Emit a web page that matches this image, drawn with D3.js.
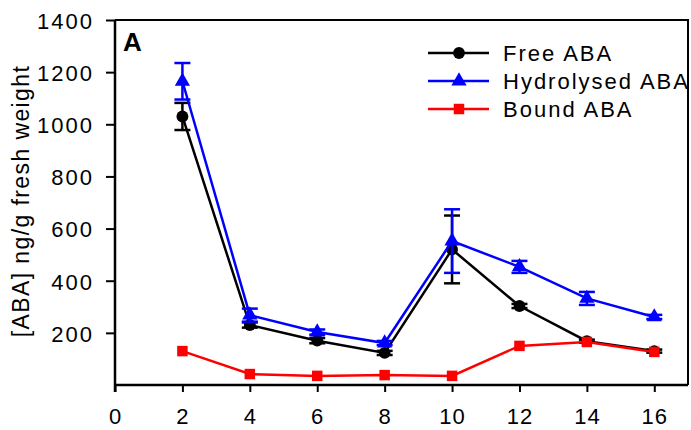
<!DOCTYPE html>
<html>
<head>
<meta charset="utf-8">
<script src="https://cdn.jsdelivr.net/npm/d3@7"></script>
<style>
  html, body { margin: 0; padding: 0; background: #fff; }
  svg { display: block; font-family: "Liberation Sans", Arial, sans-serif; }
</style>
</head>
<body>
<svg id="chart" width="691" height="430"></svg>
<script>
// Days after treatment
const days = [2, 4, 6, 8, 10, 12, 14, 16];

// ABA content, ng/g fresh weight
const freeABA = [1030, 230, 170, 123, 520, 303, 168, 130];
const freeErr = [52, 10, 10, 8, 130, 8, 6, 6];

const hydrolysedABA = [1165, 268, 203, 161, 552, 453, 332, 261];
const hydrolysedErr = [70, 25, 10, 8, 122, 23, 25, 8];

const boundABA = [130, 42, 35, 38, 35, 150, 165, 127];

const xTicks = [0, 2, 4, 6, 8, 10, 12, 14, 16];
const yTicks = [200, 400, 600, 800, 1000, 1200, 1400];

const seriesNames = ["Free ABA", "Hydrolysed ABA", "Bound ABA"];

const svg = d3.select("#chart");
const plotLeft = 115, plotRight = 688, plotTop = 20, plotBottom = 385;

const x = d3.scaleLinear().domain([0, 17]).range([plotLeft, plotRight]);
const y = d3.scaleLinear().domain([0, 1400]).range([plotBottom, plotTop]);

const fontSize = 22;
const fmt = d3.format("d");

// frame: top and right edges
svg.append("path")
  .attr("d", `M${plotLeft},${plotTop}H${plotRight}V${plotBottom}`)
  .attr("fill", "none").attr("stroke", "#000").attr("stroke-width", 2);

// x axis
const xAxis = svg.append("g").attr("transform", `translate(0,${plotBottom})`)
  .call(d3.axisBottom(x).tickValues(xTicks).tickFormat(fmt)
    .tickSize(7).tickPadding(16).tickSizeOuter(0));
xAxis.select(".domain").attr("stroke-width", 2.5).attr("d", `M${plotLeft},0H${plotRight}`);
xAxis.selectAll(".tick line").attr("stroke-width", 2);
xAxis.selectAll(".tick text")
  .attr("font-size", fontSize).attr("font-family", "Liberation Sans, Arial, sans-serif")
  .attr("fill", "#000").attr("letter-spacing", "1px");

// y axis
const yAxis = svg.append("g").attr("transform", `translate(${plotLeft},0)`)
  .call(d3.axisLeft(y).tickValues(yTicks).tickFormat(fmt)
    .tickSize(9).tickPadding(12).tickSizeOuter(0));
yAxis.select(".domain").attr("stroke-width", 2.5).attr("d", `M0,${plotTop}V${plotBottom + 7}`);
yAxis.selectAll(".tick line").attr("stroke-width", 2);
yAxis.selectAll(".tick text")
  .attr("font-size", fontSize).attr("font-family", "Liberation Sans, Arial, sans-serif")
  .attr("fill", "#000").attr("letter-spacing", "2px").attr("dy", "0.38em");

// y axis title
svg.append("text")
  .attr("transform", "translate(29,201) rotate(-90)")
  .attr("text-anchor", "middle")
  .attr("font-size", 23).attr("letter-spacing", "1.4px")
  .text("[ABA] ng/g fresh weight");

// panel label
svg.append("text")
  .attr("x", 123).attr("y", 51)
  .attr("font-size", 26).attr("font-weight", "bold")
  .text("A");

const line = d3.line().x(d => x(d[0])).y(d => y(d[1]));

function drawErrorBars(vals, errs, color) {
  const g = svg.append("g").attr("stroke", color).attr("stroke-width", 2.5);
  const cap = 8;
  days.forEach((d, i) => {
    const cx = x(d), y0 = y(vals[i] - errs[i]), y1 = y(vals[i] + errs[i]);
    g.append("line").attr("x1", cx).attr("x2", cx).attr("y1", y0).attr("y2", y1);
    g.append("line").attr("x1", cx - cap).attr("x2", cx + cap).attr("y1", y0).attr("y2", y0);
    g.append("line").attr("x1", cx - cap).attr("x2", cx + cap).attr("y1", y1).attr("y2", y1);
  });
}

function drawSeries(vals, color, symbolType, symbolSize) {
  const pts = days.map((d, i) => [d, vals[i]]);
  svg.append("path").datum(pts)
    .attr("d", line).attr("fill", "none")
    .attr("stroke", color).attr("stroke-width", 2.5);
  svg.append("g").selectAll("path").data(pts).join("path")
    .attr("transform", d => `translate(${x(d[0])},${y(d[1])})`)
    .attr("d", d3.symbol().type(symbolType).size(symbolSize))
    .attr("fill", color);
}

// Free ABA
drawErrorBars(freeABA, freeErr, "#000");
drawSeries(freeABA, "#000", d3.symbolCircle, 110);

// Hydrolysed ABA
drawErrorBars(hydrolysedABA, hydrolysedErr, "#0000ff");
drawSeries(hydrolysedABA, "#0000ff", d3.symbolTriangle, 100);

// Bound ABA
drawSeries(boundABA, "#ff0000", d3.symbolSquare, 110);

// legend
const legendRows = [
  { name: seriesNames[0], color: "#000", sym: d3.symbolCircle, size: 110 },
  { name: seriesNames[1], color: "#0000ff", sym: d3.symbolTriangle, size: 100 },
  { name: seriesNames[2], color: "#ff0000", sym: d3.symbolSquare, size: 110 }
];
const legend = svg.append("g");
legendRows.forEach((r, i) => {
  const ly = 53 + i * 28;
  legend.append("line").attr("x1", 428).attr("x2", 489).attr("y1", ly).attr("y2", ly)
    .attr("stroke", r.color).attr("stroke-width", 2.5);
  legend.append("path").attr("transform", `translate(459,${ly})`)
    .attr("d", d3.symbol().type(r.sym).size(r.size)).attr("fill", r.color);
  legend.append("text").attr("x", 503).attr("y", ly + 8)
    .attr("font-size", fontSize).attr("letter-spacing", "2px")
    .text(r.name);
});
</script>
</body>
</html>
